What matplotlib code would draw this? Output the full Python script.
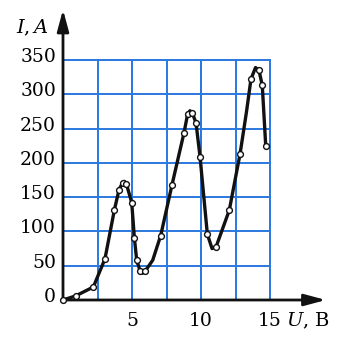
import matplotlib
matplotlib.use('Agg')
import matplotlib.pyplot as plt
import matplotlib.transforms as mtransforms

plt.rcParams['font.family'] = 'DejaVu Serif'
plt.rcParams['mathtext.fontset'] = 'dejavuserif'

# измеренные точки (напряжение, В / ток)
U = [0, 0.92, 2.2, 3.04, 3.72, 4.06, 4.32, 4.6, 4.98, 5.17, 5.34, 5.58, 5.95,
     7.08, 7.9, 8.77, 9.03, 9.37, 9.64, 9.93, 10.46, 11.1, 12.05, 12.83,
     13.62, 14.2, 14.44, 14.69]
I = [0, 6, 19, 60, 131, 161, 171, 169, 142, 91, 58, 43, 42,
     94, 168, 244, 271, 273, 258, 209, 96, 78, 131, 213,
     322, 335, 313, 225]

# сглаженная кривая (включает вершины и минимумы)
curve_U = [0, 0.92, 2.2, 3.04, 3.72, 4.06, 4.32, 4.45, 4.6, 4.98, 5.17, 5.34, 5.58,
           5.75, 5.95, 6.5, 7.08, 7.9, 8.77, 9.03, 9.2, 9.37, 9.64, 9.93, 10.46,
           10.8, 11.1, 12.05, 12.83, 13.3, 13.62, 13.95, 14.2, 14.44, 14.69]
curve_I = [0, 6, 19, 60, 131, 161, 171, 173, 169, 142, 91, 58, 43,
           39, 42, 58, 94, 168, 244, 271, 276, 273, 258, 209, 96,
           75, 78, 131, 213, 275, 322, 339, 335, 313, 225]

x_ticks = [5, 10, 15]
y_ticks = [0, 50, 100, 150, 200, 250, 300, 350]

blue = '#2a78e0'

fig = plt.figure(figsize=(3.4, 3.38), dpi=100)
ax = fig.add_axes([63 / 340, 38 / 338, 207 / 340, 240 / 338])

ax.set_xlim(0, 15)
ax.set_ylim(0, 350)

# сетка
ax.set_xticks([2.5 * k for k in range(7)], minor=True)
ax.xaxis.remove_overlapping_locs = False
ax.set_yticks(y_ticks)
ax.set_xticks(x_ticks)
ax.grid(True, which='both', axis='x', color=blue, lw=1.4)
ax.grid(True, which='major', axis='y', color=blue, lw=1.4)
ax.tick_params(which='both', length=0)
ax.tick_params(axis='y', labelsize=13.5, pad=5)
ax.tick_params(axis='x', labelsize=13.5, pad=9)
for lab in ax.get_yticklabels():
    lab.set_va('baseline')
    lab.set_transform(lab.get_transform() +
                      mtransforms.ScaledTranslation(0, -2 / 100, fig.dpi_scale_trans))

for s in ['top', 'right']:
    ax.spines[s].set_color(blue)
    ax.spines[s].set_linewidth(1.4)
for s in ['left', 'bottom']:
    ax.spines[s].set_visible(False)

# оси со стрелками
arrow = dict(arrowstyle='-|>,head_length=1.3,head_width=0.35', color='#111111', lw=2,
             shrinkA=0, shrinkB=0)
ax.annotate('', xy=(0, 1.21), xytext=(0, 0), xycoords='axes fraction',
            arrowprops=arrow, annotation_clip=False)
ax.annotate('', xy=(1.27, 0), xytext=(0, 0), xycoords='axes fraction',
            arrowprops=arrow, annotation_clip=False)

ax.plot(curve_U, curve_I, color='#111111', lw=2.4, solid_joinstyle='round',
        clip_on=False, zorder=5)
ax.plot(U, I, linestyle='none', marker='o', markersize=4.2,
        markerfacecolor='white', markeredgecolor='#111111', markeredgewidth=1,
        clip_on=False, zorder=6)

fig.text(32 / 340, 1 - 28 / 338, r'$I, A$', fontsize=14, ha='center', va='center')
fig.text(308 / 340, 1 - 321 / 338, r'$U$, В', fontsize=14, ha='center', va='center')

fig.savefig('out.png', dpi=100, facecolor='white')
